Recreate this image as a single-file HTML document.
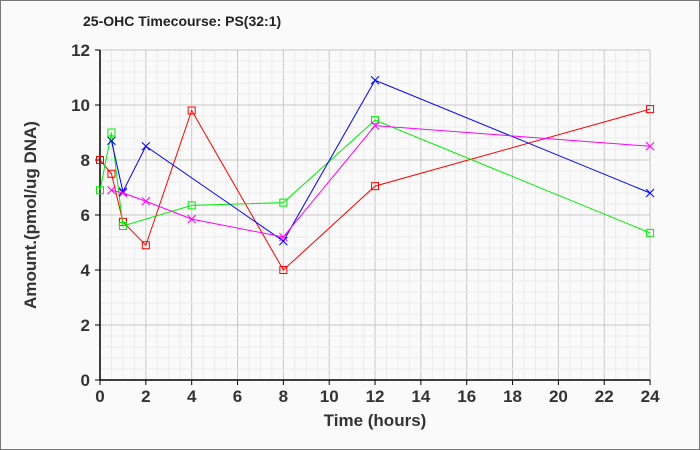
<!DOCTYPE html>
<html><head><meta charset="utf-8"><style>
body{margin:0;background:#fafafa}
svg{display:block;font-family:"Liberation Sans",Arial,sans-serif}
</style></head><body>
<svg id="s" width="700" height="450" xmlns="http://www.w3.org/2000/svg">
<rect x="0.5" y="0.5" width="699" height="449" fill="#fafafa" stroke="#777"/>
<text x="83" y="26" font-size="14" font-weight="bold" fill="#222">25-OHC Timecourse: PS(32:1)</text>
<g id="g"></g>
<text x="375" y="426" font-size="17" font-weight="bold" fill="#333" text-anchor="middle">Time (hours)</text>
<text transform="translate(36,215) rotate(-90)" font-size="17" font-weight="bold" fill="#333" text-anchor="middle">Amount.(pmol/ug DNA)</text>
</svg>
<script>
const g=document.getElementById('g');let h='';
const X=t=>100+t*22.92, Y=v=>380-v*27.5;
for(let t=0;t<=24.001;t+=0.5){const x=X(t);h+=`<line x1="${x}" y1="50" x2="${x}" y2="380" stroke="${Math.abs(t%2)<1e-6?'#c8c8c8':'#ececec'}"/>`;}
for(let v=0;v<=12.001;v+=0.4){const y=Y(v);const maj=Math.abs(v/2-Math.round(v/2))<1e-6;h+=`<line x1="100" y1="${y}" x2="650" y2="${y}" stroke="${maj?'#c8c8c8':'#ececec'}"/>`;}
h+=`<line x1="100" y1="50" x2="100" y2="380" stroke="#000" stroke-width="1.5"/><line x1="100" y1="380" x2="650" y2="380" stroke="#000" stroke-width="1.5"/>`;
for(let t=0;t<=24;t+=2){const x=X(t);h+=`<line x1="${x}" y1="380" x2="${x}" y2="385" stroke="#000"/><text x="${x}" y="402" font-size="17" font-weight="bold" fill="#333" text-anchor="middle">${t}</text>`;}
for(let v=0;v<=12;v+=2){const y=Y(v);h+=`<line x1="95" y1="${y}" x2="100" y2="${y}" stroke="#000"/><text x="90" y="${y+6}" font-size="17" font-weight="bold" fill="#333" text-anchor="end">${v}</text>`;}
const S=[
['#ff0000','sq',[[0,8],[0.5,7.5],[1,5.75],[2,4.9],[4,9.8],[8,4],[12,7.05],[24,9.85]]],
['#00ee00','sq',[[0,6.9],[0.5,9],[1,5.6],[4,6.35],[8,6.45],[12,9.45],[24,5.35]]],
['#0000ff','x',[[0.5,8.7],[1,6.85],[2,8.5],[8,5.05],[12,10.9],[24,6.8]]],
['#ff00ff','x',[[0.5,6.9],[1,6.8],[2,6.5],[4,5.85],[8,5.2],[12,9.25],[24,8.5]]]];
for(const [c,m,d] of S){h+=`<polyline fill="none" stroke="${c}" points="${d.map(p=>X(p[0])+','+Y(p[1])).join(' ')}"/>`;
for(const p of d){const x=X(p[0]),y=Y(p[1]);if(m=='sq')h+=`<rect x="${x-3.5}" y="${y-3.5}" width="7" height="7" fill="none" stroke="${c}"/>`;else h+=`<path d="M${x-4} ${y-4}L${x+4} ${y+4}M${x-4} ${y+4}L${x+4} ${y-4}" stroke="${c}"/>`;}}
g.innerHTML=h;
</script>
</body></html>
